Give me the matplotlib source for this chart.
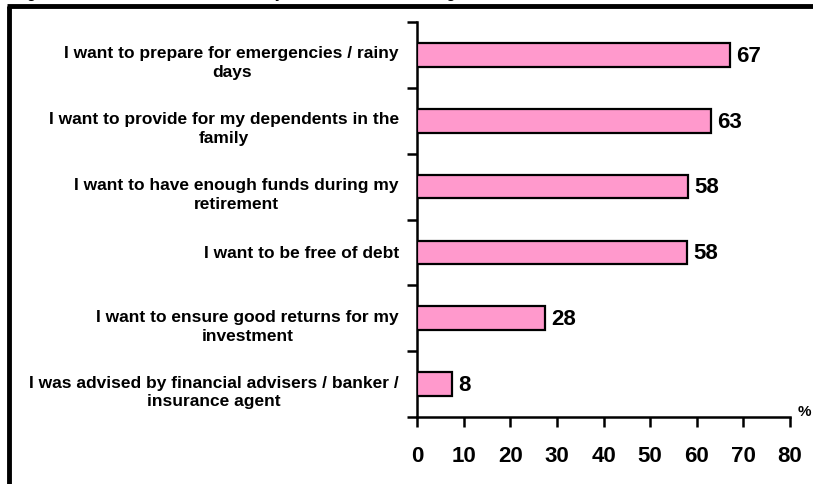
import matplotlib
matplotlib.use("Agg")
import matplotlib.pyplot as plt
from matplotlib.lines import Line2D
from matplotlib.transforms import ScaledTranslation
import numpy as np

categories = [
    "I want to prepare for emergencies / rainy\ndays",
    "I want to provide for my dependents in the\nfamily",
    "I want to have enough funds during my\nretirement",
    "I want to be free of debt",
    "I want to ensure good returns for my\ninvestment",
    "I was advised by financial advisers / banker /\ninsurance agent",
]
values = [67.2, 63.0, 58.2, 57.9, 27.5, 7.5]
value_labels = ["67", "63", "58", "58", "28", "8"]
xticks = [0, 10, 20, 30, 40, 50, 60, 70, 80]

plt.rcParams['font.family'] = ['Liberation Sans', 'DejaVu Sans']
plt.rcParams['font.weight'] = 'bold'

W, H = 813, 484
fig = plt.figure(figsize=(W / 100, H / 100), dpi=100)
ax = fig.add_axes([417 / W, 1 - 417 / H, (790 - 417) / W, (417 - 22) / H])

n = len(categories)
ypos = np.arange(n)
ax.barh(ypos, values, height=0.36, color='#FF99CC', edgecolor='black', linewidth=1.6, zorder=3)
ax.set_ylim(n - 0.5, -0.5)
ax.set_xlim(0, 80)

for y, v, lab in zip(ypos, values, value_labels):
    ax.annotate(lab, (v, y), xytext=(4.5, -1), textcoords='offset points',
                va='center', ha='left', fontsize=16, fontweight='bold')

ax.set_yticks(ypos)
ax.set_yticklabels(categories, fontsize=12.5, fontweight='bold',
                   multialignment='center', linespacing=1.32)
ax.tick_params(axis='y', which='major', length=0, pad=13)
for lab in ax.get_yticklabels():
    if '\n' in lab.get_text():
        lab.set_transform(lab.get_transform() + ScaledTranslation(0, -5 / 100, fig.dpi_scale_trans))
ax.set_yticks(np.arange(-0.5, n, 1), minor=True)
ax.tick_params(axis='y', which='minor', length=7, width=1.8, direction='out')

ax.set_xticks(xticks)
ax.set_xticklabels([str(t) for t in xticks], fontsize=16, fontweight='bold')
ax.tick_params(axis='x', length=7, width=1.8, direction='out', pad=14)

for s in ['top', 'right']:
    ax.spines[s].set_visible(False)
for s in ['left', 'bottom']:
    ax.spines[s].set_linewidth(1.8)

fig.text(798 / W, 1 - 405 / H, "%", fontsize=11, fontweight='bold', ha='left', va='top')

# frame
fig.add_artist(Line2D([8.5 / W, 8.5 / W], [0, 1 - 6 / H], color='black', lw=3.5,
                      transform=fig.transFigure, solid_capstyle='butt'))
fig.add_artist(Line2D([7 / W, 1], [1 - 6 / H, 1 - 6 / H], color='black', lw=3.5,
                      transform=fig.transFigure, solid_capstyle='butt'))

# cut-off title (only descenders visible, as in the reference)
fig.text(14 / W, 1 + 2 / H, "Figure 3: Main reasons cited as to why the members are saving",
         fontsize=10.5, fontweight='bold', ha='left', va='baseline')

fig.savefig("out.png", dpi=100)
